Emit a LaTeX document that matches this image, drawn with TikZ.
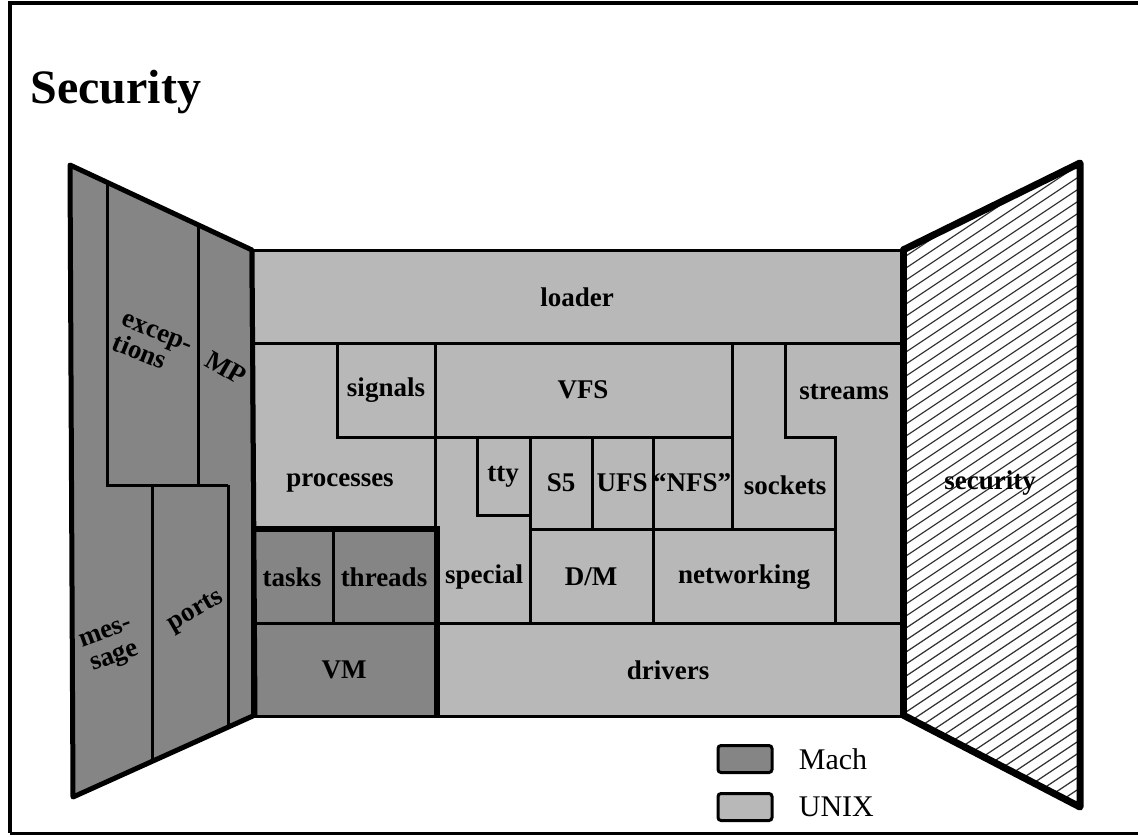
\documentclass[tikz,border=0pt]{standalone}
\usepackage{fontspec}
\setmainfont{Liberation Serif}
\usetikzlibrary{positioning}

\definecolor{machgray}{gray}{0.52}
\definecolor{unixgray}{gray}{0.72}

\begin{document}
\begin{tikzpicture}[
    x=0.5pt, y=-0.5pt,
    mach/.style={fill=machgray,draw=black,line width=1.5pt},
    unix/.style={fill=unixgray,draw=black,line width=1.5pt},
    wall/.style={draw=black,line width=2.5pt,line join=round},
    lbl/.style={font=\fontsize{13.5}{13}\selectfont\bfseries,inner sep=0pt},
    keybox/.style={rectangle,rounded corners=1.5pt,draw,line width=1.5pt,minimum width=27pt,minimum height=13.5pt,inner sep=0pt},
    keytext/.style={font=\fontsize{15}{15}\selectfont,inner sep=0pt},
    hatch/.style={line width=0.6pt,black!80},
]
\useasboundingbox (0,0) rectangle (1138,836);

% frame and title
\draw[line width=2pt] (1138,3) -- (10,3) -- (10,833);
\draw[line width=1.5pt] (10,833) -- (1138,833);
\node[font=\fontsize{24}{24}\selectfont\bfseries,anchor=base west,inner sep=0pt] (title) at (30,103) {Security};

% left wall (Mach)
\fill[machgray] (70,165) -- (252,250) -- (255,715) -- (73,797) -- cycle;
\draw[line width=1.5pt] (107,182) -- (107,485) -- (228,485)
                        (198,225) -- (198,485)
                        (152,485) -- (152,761)
                        (228,485) -- (228,727);
\draw[wall] (70,165) -- (252,250) -- (255,715) -- (73,797) -- cycle;

% right wall
\begin{scope}
  \clip (903,250) -- (1080,163) -- (1080,807) -- (903,715) -- cycle;
  \fill[white] (903,150) rectangle (1080,820);
  \foreach \c in {150,162,...,1000}
    \draw[hatch] (903,\c) -- (1080,\c-118);
\end{scope}
\draw[wall,line width=3.5pt] (903,250) -- (1080,163) -- (1080,807) -- (903,715) -- cycle;

% back wall, UNIX parts
\draw[unix] (252,250) rectangle (903,343);
\draw[unix] (337,343) rectangle (435,437);
\draw[unix] (435,343) rectangle (732,437);
\draw[unix] (252,343) -- (337,343) -- (337,437) -- (435,437) -- (435,529) -- (252,529) -- cycle;
\draw[unix] (477,437) rectangle (530,515);
\draw[unix] (530,437) rectangle (592,529);
\draw[unix] (592,437) rectangle (653,529);
\draw[unix] (653,437) rectangle (732,529);
\draw[unix] (435,437) -- (477,437) -- (477,515) -- (530,515) -- (530,623) -- (435,623) -- cycle;
\draw[unix] (732,343) -- (785,343) -- (785,437) -- (835,437) -- (835,529) -- (732,529) -- cycle;
\draw[unix] (785,343) -- (903,343) -- (903,623) -- (835,623) -- (835,437) -- (785,437) -- cycle;
\draw[unix] (530,529) rectangle (653,623);
\draw[unix] (653,529) rectangle (835,623);
\draw[unix] (437,623) rectangle (903,716);

% back wall, Mach parts
\draw[mach] (252,529) rectangle (333,623);
\draw[mach] (333,529) rectangle (437,623);
\draw[mach] (252,623) rectangle (437,716);
\draw[line width=3pt] (252,529) -- (437,529) -- (437,717);
\draw[line width=2.5pt] (252,250) -- (255,716);
\draw[wall,line width=3.5pt] (903,250) -- (903,715);

% labels
\node[lbl] (loader) at (577,297) {loader};
\node[lbl] (signals) at (386,390) {signals};
\node[lbl] (vfs) at (583,390) {VFS};
\node[lbl] (streams) at (844,392) {streams};
\node[lbl] (processes) at (340,483) {processes};
\node[lbl] (tty) at (503,477) {tty};
\node[lbl] (sfive) at (561,483) {S5};
\node[lbl] (ufs) at (622,483) {UFS};
\node[lbl] (nfs) at (692,483) {“NFS”};
\node[lbl] (sockets) at (785,485) {sockets};
\node[lbl] (tasks) at (292,577) {tasks};
\node[lbl] (threads) at (384,577) {threads};
\node[lbl] (special) at (484,577) {special};
\node[lbl] (dm) at (591,577) {D/M};
\node[lbl] (networking) at (744,577) {networking};
\node[lbl] (vm) at (344,670) {VM};
\node[lbl] (drivers) at (668,670) {drivers};
\node[lbl] (security) at (990,483) {security};
\node[lbl,align=left,rotate=-22] (exceptions) at (152,345) {excep-\\tions};
\node[lbl,rotate=-30] (mp) at (226,368) {MP};
\node[lbl,align=center,rotate=20] (message) at (111,647) {mes-\\sage};
\node[lbl,rotate=30] (ports) at (196,612) {ports};

% key
\node[keybox,fill=machgray] (keymach) at (745,759) {};
\node[keybox,fill=unixgray] (keyunix) at (745,807) {};
\node[keytext,right=12.5pt of keymach] (txtmach) {Mach};
\node[keytext,right=12.5pt of keyunix] (txtunix) {UNIX};

\end{tikzpicture}
\end{document}
